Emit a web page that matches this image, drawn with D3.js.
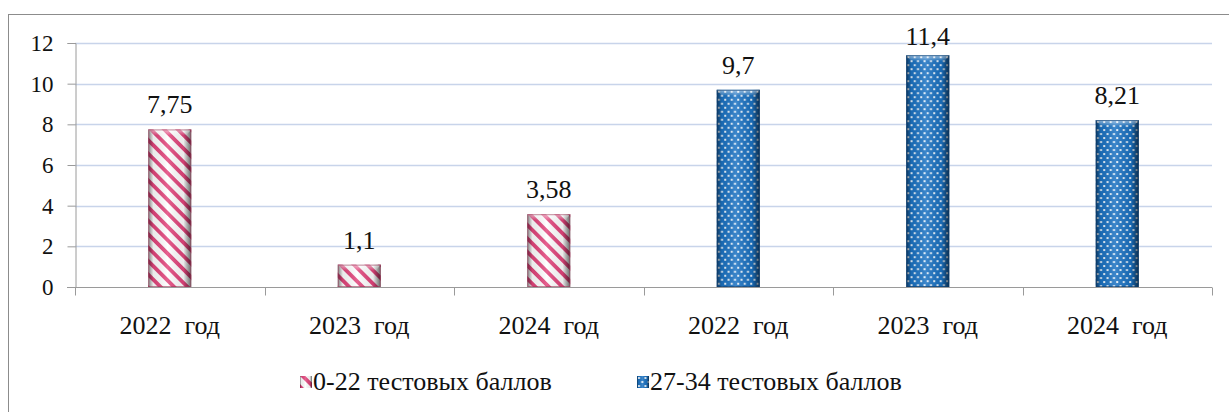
<!DOCTYPE html>
<html>
<head>
<meta charset="utf-8">
<script src="https://cdn.jsdelivr.net/npm/d3@7"></script>
</head>
<body style="margin:0">
<svg id="chart" width="1229" height="412"></svg>
<script>
// chart data
const categories = ["2022 год", "2023 год", "2024 год", "2022 год", "2023 год", "2024 год"];
const seriesNames = ["0-22 тестовых баллов", "27-34 тестовых баллов"];
const seriesIndex = [0, 0, 0, 1, 1, 1];
const values = [7.75, 1.1, 3.58, 9.7, 11.4, 8.21];
const valueLabels = ["7,75", "1,1", "3,58", "9,7", "11,4", "8,21"];
const yTicks = [0, 2, 4, 6, 8, 10, 12];

const svg = d3.select("#chart");
const margin = { left: 75, top: 43, right: 1212, bottom: 287 };

// serif text helper
const serif = sel => sel
    .attr("font-family", "Liberation Serif")
    .style("font-family", "'Liberation Serif'", "important");

// outer frame
svg.append("rect")
    .attr("x", 8.5).attr("y", 14.5)
    .attr("width", 1240).attr("height", 420)
    .attr("fill", "none").attr("stroke", "#8c8c8c");

const defs = svg.append("defs");

const stripes = defs.append("pattern")
    .attr("id", "stripes")
    .attr("patternUnits", "userSpaceOnUse")
    .attr("width", 9.5).attr("height", 9.5)
    .attr("patternTransform", "rotate(-45)");
stripes.append("rect").attr("width", 9.5).attr("height", 9.5).attr("fill", "#fff");
stripes.append("rect").attr("width", 3.8).attr("height", 9.5).attr("fill", "#e2457c");

const dots = defs.append("pattern")
    .attr("id", "dots")
    .attr("patternUnits", "userSpaceOnUse")
    .attr("width", 6.5).attr("height", 8);
dots.append("rect").attr("width", 6.5).attr("height", 8).attr("fill", "#1b72c2");
dots.append("rect").attr("x", 1).attr("y", 1).attr("width", 2).attr("height", 2).attr("fill", "#e8f2fb");
dots.append("rect").attr("x", 4.25).attr("y", 5).attr("width", 2).attr("height", 2).attr("fill", "#e8f2fb");

const bevel = defs.append("linearGradient").attr("id", "bevel");
[[0, "#000", 0.5], [0.12, "#000", 0.08], [0.45, "#fff", 0.15], [0.82, "#000", 0.08], [1, "#000", 0.6]]
    .forEach(([o, c, a]) => bevel.append("stop").attr("offset", o).attr("stop-color", c).attr("stop-opacity", a));
const topShine = defs.append("linearGradient").attr("id", "topShine")
    .attr("x1", 0).attr("y1", 0).attr("x2", 0).attr("y2", 1);
topShine.append("stop").attr("offset", 0).attr("stop-color", "#fff").attr("stop-opacity", 0.55);
topShine.append("stop").attr("offset", 1).attr("stop-color", "#fff").attr("stop-opacity", 0);

const fills = ["url(#stripes)", "url(#dots)"];
const edges = ["#9c3a5a", "#0b3a6a"];

const x = d3.scaleBand()
    .domain(d3.range(categories.length))
    .range([margin.left, margin.right])
    .paddingInner(0).paddingOuter(0);

const y = d3.scaleLinear()
    .domain([0, 12])
    .range([margin.bottom, margin.top]);

// gridlines
svg.append("g")
    .selectAll("line")
    .data(yTicks.filter(t => t > 0))
    .join("line")
    .attr("x1", margin.left).attr("x2", margin.right)
    .attr("y1", d => Math.round(y(d)) + 0.5).attr("y2", d => Math.round(y(d)) + 0.5)
    .attr("stroke", "#c8d4ea").attr("stroke-width", 1.3);

// y axis
const yAxis = svg.append("g")
    .attr("transform", `translate(${margin.left + 0.5},0)`)
    .call(d3.axisLeft(y).tickValues(yTicks).tickSize(8).tickPadding(14));
yAxis.attr("font-family", "Liberation Serif");
yAxis.select(".domain").attr("stroke", "#9a9a9a");
yAxis.selectAll(".tick line").attr("stroke", "#9a9a9a");
yAxis.selectAll(".tick text")
    .call(serif)
    .attr("font-size", 23).attr("fill", "#111");

// x axis
const xAxis = svg.append("g")
    .attr("transform", `translate(0,${margin.bottom + 0.5})`);
xAxis.append("line")
    .attr("x1", margin.left - 8).attr("x2", margin.right)
    .attr("stroke", "#9a9a9a");
xAxis.selectAll(".sep")
    .data(d3.range(categories.length + 1))
    .join("line")
    .attr("class", "sep")
    .attr("x1", i => Math.round(margin.left + i * x.bandwidth()) + 0.5)
    .attr("x2", i => Math.round(margin.left + i * x.bandwidth()) + 0.5)
    .attr("y1", 0).attr("y2", 8)
    .attr("stroke", "#9a9a9a");
xAxis.selectAll(".cat")
    .data(categories)
    .join("text")
    .attr("class", "cat")
    .attr("x", (d, i) => x(i) + x.bandwidth() / 2)
    .attr("y", 46)
    .attr("text-anchor", "middle")
    .call(serif)
    .attr("font-size", 26).attr("fill", "#111")
    .style("white-space", "pre")
    .text(d => d.replace(" ", "  "));

// bars
const barW = 43;
const bars = svg.append("g").selectAll("g")
    .data(values)
    .join("g")
    .attr("transform", (d, i) => `translate(${x(i) + x.bandwidth() / 2 - barW / 2},${y(d)})`);
bars.append("rect")
    .attr("width", barW).attr("height", d => margin.bottom - y(d))
    .attr("fill", (d, i) => fills[seriesIndex[i]]);
bars.append("rect")
    .attr("width", barW).attr("height", d => margin.bottom - y(d))
    .attr("fill", "url(#bevel)");
bars.append("path")
    .attr("d", `M0,0H${barW}L${barW - 5},6H5Z`)
    .attr("fill", "url(#topShine)");
bars.append("rect")
    .attr("x", 0.5).attr("y", 0.5)
    .attr("width", barW - 1).attr("height", d => margin.bottom - y(d) - 1)
    .attr("fill", "none")
    .attr("stroke", (d, i) => edges[seriesIndex[i]])
    .attr("stroke-opacity", 0.6);

// value labels
svg.append("g").selectAll("text")
    .data(values)
    .join("text")
    .attr("x", (d, i) => x(i) + x.bandwidth() / 2)
    .attr("y", d => Math.max(y(d) - 16, margin.top + 2))
    .attr("text-anchor", "middle")
    .call(serif)
    .attr("font-size", 26).attr("fill", "#111")
    .text((d, i) => valueLabels[i]);

// legend
const legendX = [300, 637];
const legend = svg.append("g").selectAll("g")
    .data(seriesNames)
    .join("g")
    .attr("transform", (d, i) => `translate(${legendX[i]},376)`);
legend.append("rect")
    .attr("width", 12).attr("height", 12)
    .attr("fill", (d, i) => fills[i]);
legend.append("rect")
    .attr("width", 12).attr("height", 12)
    .attr("fill", "url(#bevel)");
legend.append("text")
    .attr("x", 13).attr("y", 14)
    .call(serif)
    .attr("font-size", 26).attr("fill", "#111")
    .text(d => d);
</script>
</body>
</html>
